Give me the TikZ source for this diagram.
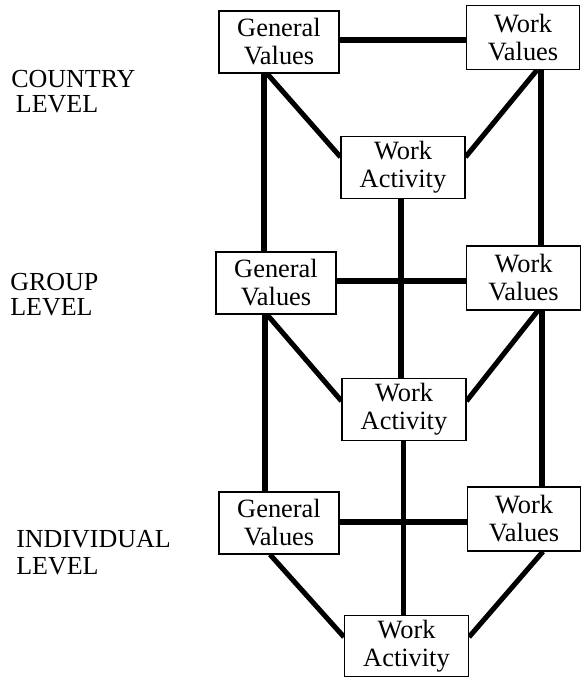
\documentclass[tikz,border=0pt]{standalone}
\usepackage{fontspec}
\setmainfont{Liberation Serif}
\usetikzlibrary{backgrounds}
\begin{document}
\begin{tikzpicture}[x=0.75pt,y=-0.75pt,
  box/.style={draw, line width=0.8pt, fill=white, inner sep=0pt, align=center,
    font=\fontsize{19.8}{21}\selectfont},
  gv/.style={box, minimum width=90pt, minimum height=46.5pt},
  wv/.style={box, minimum width=85pt, minimum height=48pt},
  wa/.style={box, minimum width=93pt, minimum height=46pt},
  link/.style={line width=3.8pt},
  lvl/.style={anchor=base west, inner sep=0pt, align=left,
    font=\fontsize{19.5}{18.5}\selectfont}]
\useasboundingbox (0,0) rectangle (583,679);

% level labels (anchor at baseline of last line)
\node[lvl] (lc) at (11,112) {COUNTRY\\\hspace*{3.5pt}LEVEL};
\node[lvl] (lg) at (10,315) {GROUP\\LEVEL};
\node[lvl, font=\fontsize{19.5}{20}\selectfont] (li) at (16,574) {INDIVIDUAL\\LEVEL};

% boxes
\node[gv] (GV1) at (279,42) {General\\Values};
\node[wv] (WV1) at (523,37.5) {Work\\Values};
\node[wa] (WA1) at (403,167.5) {Work\\Activity};
\node[gv] (GV2) at (276,283) {General\\Values};
\node[wv] (WV2) at (523.5,278) {Work\\Values};
\node[wa] (WA2) at (404,409.5) {Work\\Activity};
\node[gv] (GV3) at (279,523) {General\\Values};
\node[wv] (WV3) at (524,519) {Work\\Values};
\node[wa] (WA3) at (406.5,646) {Work\\Activity};

% helper coordinates
\coordinate (h1) at (0,40);
\coordinate (h2) at (0,281);
\coordinate (h3) at (0,522);
\coordinate (vL1) at (264,0);
\coordinate (vL2) at (265,0);
\coordinate (vR1) at (541,0);
\coordinate (vR2) at (542,0);
\coordinate (vC1) at (401,0);
\coordinate (vC2) at (403.5,0);
\coordinate (dL1) at (267,0);
\coordinate (dR1) at (537,0);
\coordinate (dL2) at (267,0);
\coordinate (dR2) at (538,0);
\coordinate (dL3) at (270,0);
\coordinate (dR3) at (543,0);
\coordinate (a1) at (0,157);
\coordinate (a2) at (0,401);
\coordinate (a3) at (0,637);

\begin{pgfonlayer}{background}
% horizontals
\draw[link] (GV1.east |- h1) -- (WV1.west |- h1);
\draw[link] (GV2.east |- h2) -- (WV2.west |- h2);
\draw[link] (GV3.east |- h3) -- (WV3.west |- h3);
% verticals
\draw[link] (GV1.south -| vL1) -- (GV2.north -| vL1);
\draw[link] (GV2.south -| vL2) -- (GV3.north -| vL2);
\draw[link] (WV1.south -| vR1) -- (WV2.north -| vR1);
\draw[link] (WV2.south -| vR2) -- (WV3.north -| vR2);
\draw[link] (WA1.south -| vC1) -- (WA2.north -| vC1);
\draw[link] (WA2.south -| vC2) -- (WA3.north -| vC2);
% diagonals
\draw[link] (GV1.south -| dL1) -- (WA1.west |- a1);
\draw[link] (WV1.south -| dR1) -- (WA1.east |- a1);
\draw[link] (GV2.south -| dL2) -- (WA2.west |- a2);
\draw[link] (WV2.south -| dR2) -- (WA2.east |- a2);
\draw[link] (GV3.south -| dL3) -- (WA3.west |- a3);
\draw[link] (WV3.south -| dR3) -- (WA3.east |- a3);
\end{pgfonlayer}
\end{tikzpicture}
\end{document}
